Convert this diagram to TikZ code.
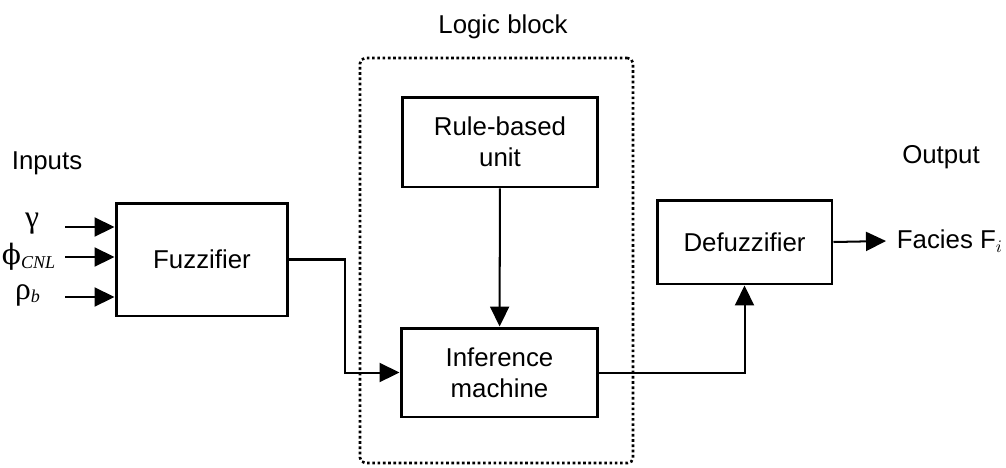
\documentclass[tikz,border=0pt]{standalone}
\usepackage{fontspec}
\setmainfont{Liberation Sans}
\newfontfamily\grk{DejaVu Serif}
\newfontfamily\grkl{Liberation Serif}
\usetikzlibrary{arrows.meta}

\begin{document}
\begin{tikzpicture}[
    x=0.02cm, y=-0.02cm,
    font=\fontsize{14.7}{17.5}\selectfont,
    blk/.style={draw, line width=1.7pt, minimum width=#1, align=center, inner sep=0pt},
    lbl/.style={inner sep=0pt},
    arr/.style={-{Triangle[length=0.4cm, width=0.38cm]}, line width=1.15pt},
]
\useasboundingbox (0,0) rectangle (1006,467);
% Logic block (dotted frame)
\node[draw, line width=1.5pt, dash pattern=on 1.5pt off 1.5pt, rounded corners=3pt,
      minimum width=5.46cm, minimum height=8.1cm] (logic) at (496.5,260.5) {};
\node[lbl] (logictxt) at (503,27) {Logic block};
% Blocks
\node[blk=3.44cm, minimum height=2.26cm] (fuzz) at (202,259.5) {Fuzzifier};
\node[blk=3.92cm, minimum height=1.8cm] (rule) at (500,142) {Rule-based\\unit};
\node[blk=3.94cm, minimum height=1.78cm] (infer) at (499.5,372.5) {Inference\\machine};
\node[blk=3.5cm, minimum height=1.68cm] (defuzz) at (744.5,242) {Defuzzifier};
% Inputs
\node[lbl, font=\grkl\fontsize{18}{18}\selectfont] (gam) at (32,224) {γ};
\node[lbl] (inputs) at (47,163) {Inputs};
\node[lbl] (phi) at (29,257) {{\grk\fontsize{16}{17}\selectfont ϕ}\textsubscript{\textit{\grkl CNL}}};
\node[lbl] (rho) at (28,295) {{\grkl\fontsize{18}{18}\selectfont ρ}\textsubscript{\textit{\grkl b}}};
\foreach \n/\y in {a/227, b/257, c/297} {
    \coordinate (s\n) at (65,\y);
    \draw[arr] (s\n) -- (s\n -| fuzz.west);
}
% Output
\node[lbl] (outtxt) at (941,157) {Output};
\node[lbl, anchor=west, inner xsep=6pt] (facies) at (886,241) {Facies F$_i$};
% Connectors
\coordinate (bend) at (345,0);
\draw[arr] (fuzz.east) -- (fuzz.east -| bend) |- (infer.west);
\draw[arr] (rule) -- (infer);
\draw[arr] (infer.east) -| (defuzz.south);
\draw[arr] (defuzz.east) -- (facies.west);
\end{tikzpicture}
\end{document}
